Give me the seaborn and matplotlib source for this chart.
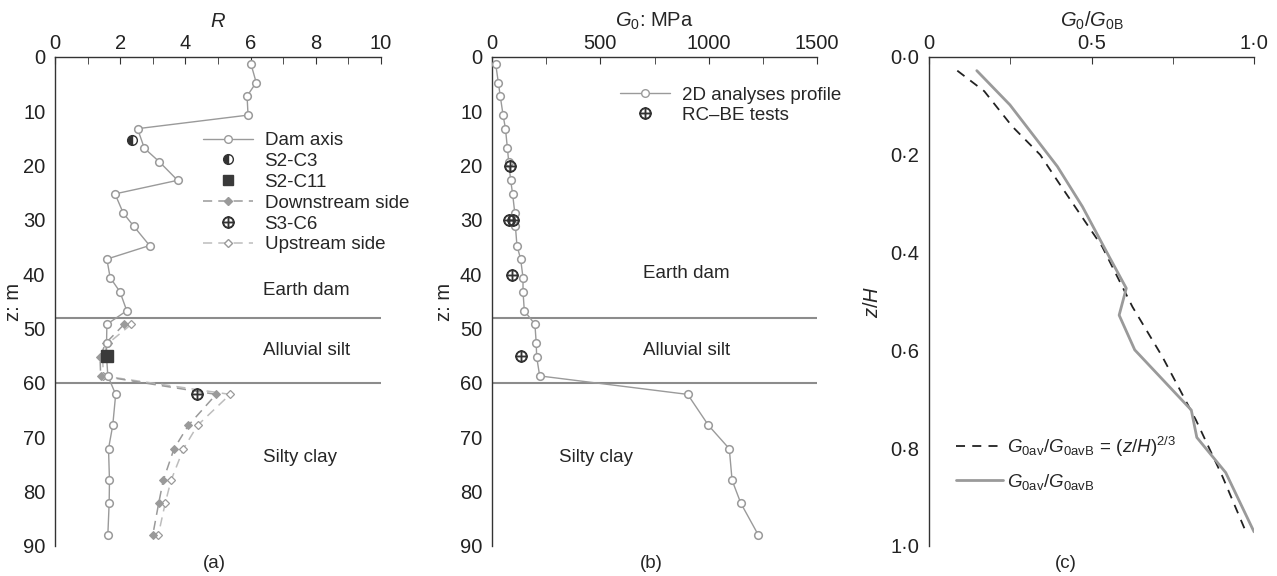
import matplotlib
matplotlib.use('Agg')
import matplotlib.pyplot as plt
from matplotlib.lines import Line2D
from matplotlib.ticker import MultipleLocator, FuncFormatter
import seaborn as sns

# ---- data ----
# (a) stiffness ratio R vs depth
z_axis = [1.3, 4.7, 7.2, 10.7, 13.2, 16.8, 19.3, 22.7, 25.2, 28.7, 31.2, 34.7, 37.2,
          40.6, 43.2, 46.7, 49.2, 52.7, 55.2, 58.7, 62.1, 67.8, 72.1, 77.9, 82.1, 87.9]
R_axis = [6.01, 6.17, 5.89, 5.92, 2.53, 2.74, 3.20, 3.76, 1.84, 2.09, 2.42, 2.90, 1.59,
          1.69, 1.99, 2.20, 1.59, 1.58, 1.58, 1.62, 1.86, 1.77, 1.64, 1.67, 1.66, 1.62]
z_side = [49.2, 52.7, 55.2, 58.7, 62.1, 67.8, 72.1, 77.9, 82.1, 87.9]
R_down = [2.12, 1.55, 1.38, 1.40, 4.94, 4.09, 3.65, 3.32, 3.18, 3.00]
R_up = [2.34, 1.63, 1.46, 1.48, 5.37, 4.37, 3.94, 3.56, 3.38, 3.17]
s2c3 = (2.35, 15.2)
s2c11 = (1.60, 55.0)
s3c6 = (4.34, 62.0)

# (b) G0 profile
G_prof = [17, 29, 38, 51, 62, 71, 77, 86, 95, 105, 108, 115, 132, 143, 143, 149,
          198, 204, 206, 220, 903, 999, 1095, 1108, 1148, 1228]
G_rcbe = [83, 80, 95, 92, 132]
z_rcbe = [20.1, 30.0, 30.0, 40.1, 55.0]

# (c) normalised profile
zh_av = [0.028, 0.098, 0.224, 0.306, 0.408, 0.473, 0.528, 0.599, 0.722, 0.778, 0.850, 0.971]
g_av = [0.147, 0.249, 0.395, 0.472, 0.554, 0.607, 0.585, 0.633, 0.807, 0.824, 0.913, 1.0]
zh_fit = [0.028, 0.070, 0.142, 0.200, 0.258, 0.388, 0.511, 0.613, 0.742, 0.858, 0.971]
g_fit = [0.087, 0.170, 0.256, 0.342, 0.400, 0.533, 0.626, 0.718, 0.821, 0.903, 0.975]

layers = [48, 60]

sns.set_style('white')
plt.rcParams['font.family'] = ['Liberation Sans', 'DejaVu Sans']
plt.rcParams['mathtext.fontset'] = 'custom'
plt.rcParams['mathtext.rm'] = 'Liberation Sans'
plt.rcParams['mathtext.it'] = 'Liberation Sans:italic'
plt.rcParams['mathtext.bf'] = 'Liberation Sans:bold'

DARK = '#333333'
GREY = '#9a9a9a'
LIGHT = '#bdbdbd'
FS = 14.5   # ticks / axis labels
TS = 13.5   # annotations / legends

fig = plt.figure(figsize=(12.77, 5.76), dpi=100)
ax_a = fig.add_axes([0.0431, 0.0521, 0.2553, 0.849])
ax_b = fig.add_axes([0.3853, 0.0521, 0.2545, 0.849])
ax_c = fig.add_axes([0.7275, 0.0521, 0.2545, 0.849])


def style_axes(ax):
    for s in ['right', 'bottom']:
        ax.spines[s].set_visible(False)
    for s in ['left', 'top']:
        ax.spines[s].set_color(DARK)
        ax.spines[s].set_linewidth(1.0)
    ax.xaxis.tick_top()
    ax.xaxis.set_label_position('top')
    ax.tick_params(axis='x', which='both', direction='in', length=5, color=DARK,
                   labelsize=FS, labelcolor='#222222', pad=3)
    ax.tick_params(axis='y', which='both', direction='out', length=5, color=DARK,
                   labelsize=FS, labelcolor='#222222', pad=2)
    ax.grid(False)


# ---- (a) ----
ax = ax_a
for zl in layers:
    ax.axhline(zl, color='#8c8c8c', lw=1.5, zorder=1)
sns.lineplot(x=R_up, y=z_side, ax=ax, sort=False, estimator=None, color=LIGHT,
             lw=1.1, linestyle=(0, (6, 4)), marker='D', markersize=4,
             markerfacecolor='white', markeredgecolor=GREY, markeredgewidth=0.9, zorder=2)
sns.lineplot(x=R_down, y=z_side, ax=ax, sort=False, estimator=None, color=GREY,
             lw=1.1, linestyle=(0, (6, 4)), marker='D', markersize=4,
             markerfacecolor=GREY, markeredgecolor=GREY, zorder=3)
sns.lineplot(x=R_axis, y=z_axis, ax=ax, sort=False, estimator=None, color=GREY,
             lw=1.0, marker='o', markersize=5.5, markerfacecolor='white',
             markeredgecolor=GREY, markeredgewidth=1.1, zorder=4)
ax.plot(*s2c3, marker='o', ms=7, fillstyle='left', color=DARK, markerfacecoloralt='white',
        mec=DARK, ls='', zorder=6)
ax.plot(*s2c11, marker='s', ms=8, color='#3a3a3a', ls='', zorder=6)
ax.plot(*s3c6, marker=r'$\oplus$', ms=8, color=DARK, ls='', zorder=6)

ax.set_xlim(0, 10)
ax.set_ylim(90, 0)
ax.xaxis.set_major_locator(MultipleLocator(2))
ax.xaxis.set_minor_locator(MultipleLocator(1))
ax.yaxis.set_major_locator(MultipleLocator(10))
style_axes(ax)
ax.set_xlabel('$R$', fontsize=FS, labelpad=5)
ax.set_ylabel('z: m', fontsize=FS)
ax.yaxis.set_label_coords(-0.098, 0.5)
ax.text(6.38, 42.9, 'Earth dam', fontsize=TS, va='center')
ax.text(6.38, 54.1, 'Alluvial silt', fontsize=TS, va='center')
ax.text(6.38, 73.7, 'Silty clay', fontsize=TS, va='center')
ax.text(0.49, -0.035, '(a)', transform=ax.transAxes, ha='center', va='center', fontsize=TS)

hdl = [
    Line2D([], [], color=GREY, lw=1.0, marker='o', ms=5.5, mfc='white', mec=GREY),
    Line2D([], [], color=DARK, ls='', marker='o', ms=7, fillstyle='left',
           markerfacecoloralt='white'),
    Line2D([], [], color='#3a3a3a', ls='', marker='s', ms=7),
    Line2D([], [], color=GREY, lw=1.1, ls=(0, (6, 4)), marker='D', ms=4, mfc=GREY, mec=GREY),
    Line2D([], [], color=DARK, ls='', marker=r'$\oplus$', ms=8),
    Line2D([], [], color=LIGHT, lw=1.1, ls=(0, (6, 4)), marker='D', ms=4, mfc='white', mec=GREY),
]
lab = ['Dam axis', 'S2-C3', 'S2-C11', 'Downstream side', 'S3-C6', 'Upstream side']
ax.legend(hdl, lab, loc='upper left', bbox_to_anchor=(0.43, 0.862), frameon=False,
          fontsize=TS, handlelength=2.7, handletextpad=0.6, labelspacing=0.2,
          borderaxespad=0)

# ---- (b) ----
ax = ax_b
for zl in layers:
    ax.axhline(zl, color='#8c8c8c', lw=1.5, zorder=1)
sns.lineplot(x=G_prof, y=z_axis, ax=ax, sort=False, estimator=None, color=GREY,
             lw=1.0, marker='o', markersize=5.5, markerfacecolor='white',
             markeredgecolor=GREY, markeredgewidth=1.1, zorder=3)
ax.plot(G_rcbe, z_rcbe, marker=r'$\oplus$', ms=8, color=DARK, ls='', zorder=5)
ax.set_xlim(0, 1500)
ax.set_ylim(90, 0)
ax.xaxis.set_major_locator(MultipleLocator(500))
ax.xaxis.set_minor_locator(MultipleLocator(250))
ax.yaxis.set_major_locator(MultipleLocator(10))
style_axes(ax)
ax.set_xlabel('$G_0$: MPa', fontsize=FS, labelpad=5)
ax.set_ylabel('z: m', fontsize=FS)
ax.yaxis.set_label_coords(-0.118, 0.5)
ax.text(697, 39.8, 'Earth dam', fontsize=TS, va='center')
ax.text(697, 54.1, 'Alluvial silt', fontsize=TS, va='center')
ax.text(309, 73.7, 'Silty clay', fontsize=TS, va='center')
ax.text(0.49, -0.035, '(b)', transform=ax.transAxes, ha='center', va='center', fontsize=TS)
hdl_b = [Line2D([], [], color=GREY, lw=1.0, marker='o', ms=5.5, mfc='white', mec=GREY),
         Line2D([], [], color=DARK, ls='', marker=r'$\oplus$', ms=8)]
ax.legend(hdl_b, ['2D analyses profile', 'RC\u2013BE tests'], loc='upper left',
          bbox_to_anchor=(0.37, 0.955), frameon=False, fontsize=TS, handlelength=2.7,
          handletextpad=0.6, labelspacing=0.15, borderaxespad=0)

# ---- (c) ----
ax = ax_c
sns.lineplot(x=g_fit, y=zh_fit, ax=ax, sort=False, estimator=None, color='#222222',
             lw=1.3, linestyle=(0, (5, 4)),
             label=r'$G_{\mathrm{0av}}/G_{\mathrm{0avB}}\,=\,(z/H)^{2/3}$')
sns.lineplot(x=g_av, y=zh_av, ax=ax, sort=False, estimator=None, color=GREY, lw=2.0,
             label=r'$G_{\mathrm{0av}}/G_{\mathrm{0avB}}$')
ax.set_xlim(0, 1.0)
ax.set_ylim(1.0, 0)
ax.xaxis.set_major_locator(MultipleLocator(0.5))
ax.xaxis.set_minor_locator(MultipleLocator(0.25))
ax.yaxis.set_major_locator(MultipleLocator(0.2))
ax.xaxis.set_major_formatter(FuncFormatter(
    lambda v, p: '0' if abs(v) < 1e-9 else ('%.1f' % v).replace('.', '\u00b7')))
ax.yaxis.set_major_formatter(FuncFormatter(lambda v, p: ('%.1f' % v).replace('.', '\u00b7')))
style_axes(ax)
ax.set_xlabel(r'$G_0/G_{\mathrm{0B}}$', fontsize=FS, labelpad=5)
ax.set_ylabel('$z/H$', fontsize=FS)
ax.yaxis.set_label_coords(-0.145, 0.5)
ax.text(0.42, -0.035, '(c)', transform=ax.transAxes, ha='center', va='center', fontsize=TS)
ax.legend(loc='lower left', bbox_to_anchor=(0.06, 0.095), frameon=False, fontsize=TS,
          handlelength=2.5, handletextpad=0.2, labelspacing=0.7, borderaxespad=0)

fig.savefig('out.png', dpi=100)
